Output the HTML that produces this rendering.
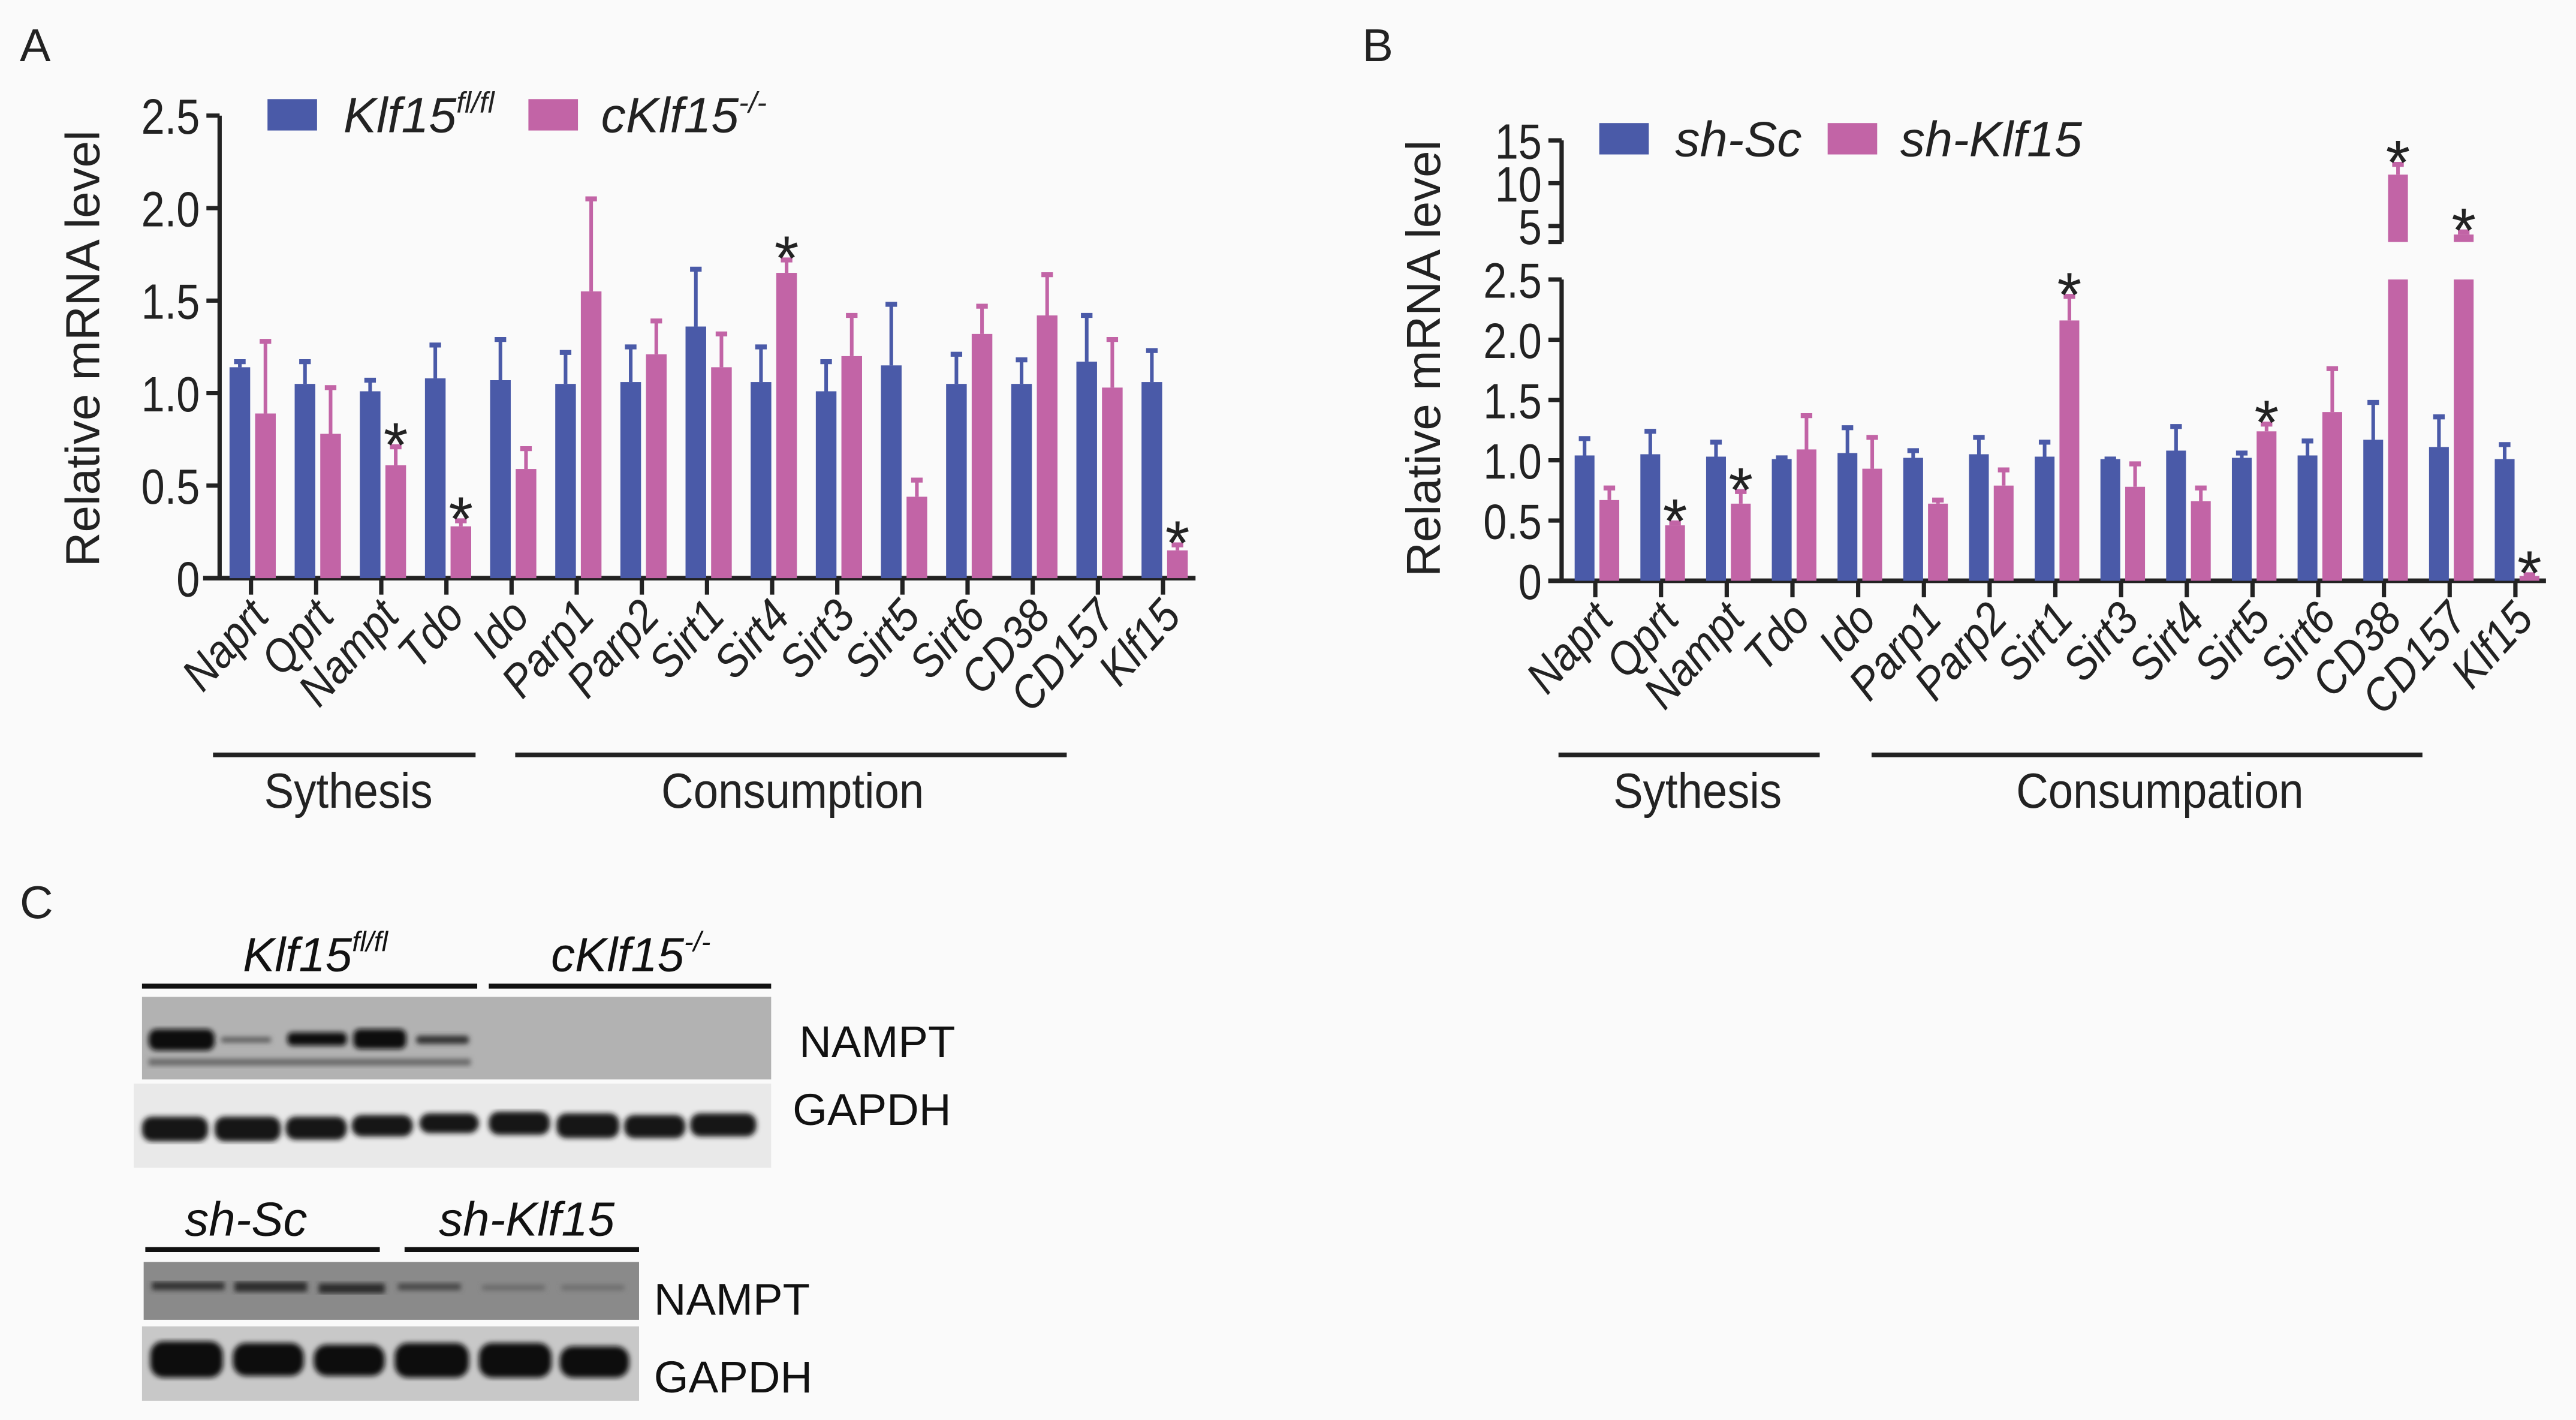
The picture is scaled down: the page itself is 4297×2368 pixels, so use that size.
<!DOCTYPE html>
<html><head><meta charset="utf-8">
<style>
html,body{margin:0;padding:0;background:#fafafa;}
svg{display:block;font-family:"Liberation Sans",Arial,sans-serif;}
</style></head>
<body>
<svg id="fig" width="4297" height="2368" viewBox="0 0 1560 859.66" preserveAspectRatio="none" xmlns="http://www.w3.org/2000/svg">
<defs>
<filter id="blur1"><feGaussianBlur stdDeviation="1.5"/></filter>
</defs>
<rect width="1560" height="860" fill="#fafafa"/>
<g id="panelA"></g>
<g id="panelB"></g>
<g id="panelC">
  <text x="12" y="556" font-size="28" fill="#222">C</text>
  <text x="191" y="588" font-size="29" font-style="italic" text-anchor="middle" fill="#111">Klf15<tspan font-size="17" dy="-12">fl/fl</tspan></text>
  <text x="382" y="588" font-size="29" font-style="italic" text-anchor="middle" fill="#111">cKlf15<tspan font-size="17" dy="-12">-/-</tspan></text>
  <line x1="86" y1="597" x2="289" y2="597" stroke="#111" stroke-width="3"/>
  <line x1="296" y1="597" x2="467" y2="597" stroke="#111" stroke-width="3"/>
  <g>
    <rect x="86" y="603.5" width="381" height="50" fill="#b2b2b2"/>
    <g filter="url(#blur1)" fill="#111">
      <rect x="90" y="623" width="40" height="13" rx="5"/>
      <rect x="134" y="628" width="30" height="3" fill="#555"/>
      <rect x="174" y="625" width="36" height="8" rx="3"/>
      <rect x="214" y="623" width="32" height="12" rx="4"/>
      <rect x="252" y="627" width="32" height="5" rx="2" fill="#333"/>
      <rect x="90" y="641" width="195" height="4" fill="#666"/>
    </g>
  </g>
  <g>
    <rect x="81" y="656" width="386" height="51" fill="#e9e9e9"/>
    <g filter="url(#blur1)" fill="#151515">
      <rect x="86" y="676" width="40" height="15" rx="6"/>
      <rect x="130" y="676" width="40" height="15" rx="6"/>
      <rect x="173" y="676" width="37" height="14" rx="6"/>
      <rect x="213" y="675" width="37" height="13" rx="6"/>
      <rect x="254" y="674" width="36" height="12" rx="6"/>
      <rect x="296" y="673" width="37" height="14" rx="6"/>
      <rect x="337" y="674" width="38" height="15" rx="6"/>
      <rect x="378" y="675" width="37" height="14" rx="6"/>
      <rect x="418" y="674" width="40" height="14" rx="6"/>
    </g>
  </g>
  <text x="484" y="640" font-size="27" fill="#111">NAMPT</text>
  <text x="480" y="681" font-size="27" fill="#111">GAPDH</text>
  <text x="149" y="748" font-size="29" font-style="italic" text-anchor="middle" fill="#111">sh-Sc</text>
  <text x="319" y="748" font-size="29" font-style="italic" text-anchor="middle" fill="#111">sh-Klf15</text>
  <line x1="88" y1="756.5" x2="230" y2="756.5" stroke="#111" stroke-width="3"/>
  <line x1="245" y1="756.5" x2="387" y2="756.5" stroke="#111" stroke-width="3"/>
  <g>
    <rect x="87" y="764" width="300" height="35" fill="#8a8a8a"/>
    <g filter="url(#blur1)">
      <rect x="92" y="776" width="44" height="5" fill="#333"/>
      <rect x="142" y="776" width="44" height="6" fill="#2a2a2a"/>
      <rect x="193" y="777" width="40" height="6" fill="#2a2a2a"/>
      <rect x="241" y="777" width="38" height="4" fill="#444"/>
      <rect x="292" y="778" width="38" height="3" fill="#666"/>
      <rect x="340" y="778" width="38" height="3" fill="#6a6a6a"/>
    </g>
  </g>
  <g>
    <rect x="86" y="803" width="301" height="45" fill="#c8c8c8"/>
    <g filter="url(#blur1)" fill="#111">
      <rect x="91" y="812" width="44" height="22" rx="8"/>
      <rect x="141" y="813" width="43" height="20" rx="8"/>
      <rect x="190" y="814" width="43" height="19" rx="8"/>
      <rect x="239" y="813" width="45" height="21" rx="8"/>
      <rect x="290" y="813" width="44" height="21" rx="8"/>
      <rect x="339" y="815" width="42" height="19" rx="8"/>
    </g>
  </g>
  <text x="396" y="796" font-size="27" fill="#111">NAMPT</text>
  <text x="396" y="843" font-size="27" fill="#111">GAPDH</text>
</g>
</svg>
<script>
// ---- Panel A data ----
const catsA = ["Naprt","Qprt","Nampt","Tdo","Ido","Parp1","Parp2","Sirt1","Sirt4","Sirt3","Sirt5","Sirt6","CD38","CD157","Klf15"];
const blueA = [1.14,1.05,1.01,1.08,1.07,1.05,1.06,1.36,1.06,1.01,1.15,1.05,1.05,1.17,1.06];
const blueAErr = [0.03,0.12,0.06,0.18,0.22,0.17,0.19,0.31,0.19,0.16,0.33,0.16,0.13,0.25,0.17];
const pinkA = [0.89,0.78,0.61,0.28,0.59,1.55,1.21,1.14,1.65,1.20,0.44,1.32,1.42,1.03,0.15];
const pinkAErr = [0.39,0.25,0.10,0.03,0.11,0.50,0.18,0.18,0.07,0.22,0.09,0.15,0.22,0.26,0.03];
const starA = [0,0,1,1,0,0,0,0,1,0,0,0,0,0,1];
const ticksA = ["0","0.5","1.0","1.5","2.0","2.5"];
const tickValsA = [0,0.5,1,1.5,2,2.5];
// ---- Panel B data ----
const catsB = ["Naprt","Qprt","Nampt","Tdo","Ido","Parp1","Parp2","Sirt1","Sirt3","Sirt4","Sirt5","Sirt6","CD38","CD157","Klf15"];
const blueB = [1.04,1.05,1.03,1.01,1.06,1.02,1.05,1.03,1.01,1.08,1.02,1.04,1.17,1.11,1.01];
const blueBErr = [0.14,0.19,0.12,0.01,0.21,0.06,0.14,0.12,0.0,0.20,0.04,0.12,0.31,0.25,0.12];
const pinkB = [0.67,0.46,0.64,1.09,0.93,0.64,0.79,2.16,0.78,0.66,1.24,1.40,11.0,4.0,0.04];
const pinkBErr = [0.10,0.02,0.10,0.28,0.26,0.03,0.13,0.20,0.19,0.11,0.06,0.36,1.2,0.3,0.01];
const starB = [0,1,1,0,0,0,0,1,0,0,1,0,1,1,1];
const ticksBLow = ["0","0.5","1.0","1.5","2.0","2.5"];
const tickValsBLow = [0,0.5,1,1.5,2,2.5];
const ticksBHigh = ["5","10","15"];
const tickValsBHigh = [5,10,15];

const NS = "http://www.w3.org/2000/svg";
const BLUE = "#4a5aa8", PINK = "#c264a6";
function mk(parent, tag, attrs, text){
  const e = document.createElementNS(NS, tag);
  for (const k in attrs) e.setAttribute(k, attrs[k]);
  if (text !== undefined) e.textContent = text;
  parent.appendChild(e);
  return e;
}

function drawPanel(g, o){
  const yL = v => o.y0 - v / o.maxLow * (o.y0 - o.yTop);
  const yH = v => o.hiBase - (v - o.hiRef) / 5 * o.hiStep;
  const xT = i => o.x0 + i * o.dx;
  let t = mk(g,"text",{x:o.letterX,y:37,"font-size":28,fill:"#222"},o.letter);
  
  
  let ax = mk(g,"line",{x1:o.ax,y1:o.y0,x2:o.ax,y2:o.yTop,stroke:"#222","stroke-width":2.6});
  
  
  o.tickVals.forEach((v,i)=>{
    const y = yL(v);
    let tk = mk(g,"line",{x1:o.ax-8,y1:y,x2:o.ax,y2:y,stroke:"#222","stroke-width":2.6});
    
    
    let tl = mk(g,"text",{x:0,y:0,"font-size":30,"text-anchor":"end",fill:"#222",transform:`translate(${o.ax-12},${y+11}) scale(0.85,1)`},o.ticks[i]);
    
    
  });
  if (o.hi){
    let ax2 = mk(g,"line",{x1:o.ax,y1:o.hiBottom,x2:o.ax,y2:yH(15),stroke:"#222","stroke-width":2.6});
    
    
    let br = mk(g,"line",{x1:o.ax-8,y1:o.hiBottom,x2:o.ax,y2:o.hiBottom,stroke:"#222","stroke-width":2.6});
    
    
    o.hiVals.forEach((v,i)=>{
      const y = yH(v);
      let tk = mk(g,"line",{x1:o.ax-8,y1:y,x2:o.ax,y2:y,stroke:"#222","stroke-width":2.6});
      
      
      let tl = mk(g,"text",{x:0,y:0,"font-size":30,"text-anchor":"end",fill:"#222",transform:`translate(${o.ax-12},${y+11}) scale(0.85,1)`},o.hiTicks[i]);
      
      
    });
  }
  let yt = mk(g,"text",{x:0,y:0,"font-size":29,"text-anchor":"middle",fill:"#222",transform:`translate(${o.ytX},${o.ytY}) rotate(-90)`},"Relative mRNA level");
  
  
  let xa = mk(g,"line",{x1:o.xStart,y1:o.y0,x2:o.xEnd,y2:o.y0,stroke:"#222","stroke-width":2.8});
  
  
  const bw = o.bw;
  const valToY = v => {
    if (!o.hi || v <= o.maxLow) return yL(v);
    return yH(v);
  };
  o.cats.forEach((c,i)=>{
    const x = xT(i);
    let tk = mk(g,"line",{x1:x,y1:o.y0,x2:x,y2:o.y0+10,stroke:"#222","stroke-width":2.6});
    
    
    let lb = mk(g,"text",{x:0,y:0,"font-size":28,"font-style":"italic","text-anchor":"end",fill:"#222",transform:`translate(${x+12},${o.y0+24}) rotate(-48) scale(0.9,1)`},c);
    
    
    [[o.blue,o.blueErr,BLUE,x-bw-0.5,'blue'],[o.pink,o.pinkErr,PINK,x+2.5,'pink']].forEach(s=>{
      const v = s[0][i], e = s[1][i], col = s[2], bx = s[3];
      const cx = bx + bw/2;
      const eTop = valToY(v+e), vy = valToY(v);
      let el = mk(g,"line",{x1:cx,y1:vy,x2:cx,y2:eTop,stroke:col,"stroke-width":2.2});
      
      
      let ec = mk(g,"line",{x1:cx-3.5,y1:eTop,x2:cx+3.5,y2:eTop,stroke:col,"stroke-width":3});
      
      
      if (o.hi && v > o.maxLow){
        let r1 = mk(g,"rect",{x:bx,y:o.yTop,width:bw,height:o.y0-o.yTop,fill:col});
        
        
        let r2 = mk(g,"rect",{x:bx,y:vy,width:bw,height:Math.max(0,o.hiBottom-vy),fill:col});
        
        
      } else {
        let r = mk(g,"rect",{x:bx,y:vy,width:bw,height:o.y0-vy,fill:col});
        
        
      }
    });
    if (o.star[i]){
      const sx = x + 2.5 + bw/2;
      const sy = valToY(o.pink[i]+o.pinkErr[i]) - 4;
      let st = mk(g,"text",{x:sx,y:sy+16,"font-size":38,"text-anchor":"middle",fill:"#222"},"*");
      
      
    }
  });
  let l1 = mk(g,"rect",{x:o.legX,y:o.legY,width:30,height:19,fill:BLUE});
  
  
  let lt1 = mk(g,"text",{x:o.legX+46,y:o.legY+20,"font-size":30,"font-style":"italic",fill:"#222"});
  
  
  lt1.innerHTML = o.leg1;
  let l2 = mk(g,"rect",{x:o.leg2X,y:o.legY,width:30,height:19,fill:PINK});
  
  
  let lt2 = mk(g,"text",{x:o.leg2X+44,y:o.legY+20,"font-size":30,"font-style":"italic",fill:"#222"});
  
  
  lt2.innerHTML = o.leg2;
  o.groups.forEach(gr=>{
    let ln = mk(g,"line",{x1:gr[0],y1:457,x2:gr[1],y2:457,stroke:"#222","stroke-width":2.8});
    
    
    let gt = mk(g,"text",{x:0,y:0,"font-size":30,"text-anchor":"middle",fill:"#222",transform:`translate(${gr[2]},${489}) scale(0.9,1)`},gr[3]);
    
    
  });
}

drawPanel(document.getElementById('panelA'),{
  letter:"A", letterX:12, ax:133, y0:350, yTop:70, maxLow:2.5,
  ticks:ticksA, tickVals:tickValsA, ytX:60, ytY:211,
  xStart:123, xEnd:724, x0:152, dx:39.45, bw:12.5,
  cats:catsA, blue:blueA, blueErr:blueAErr, pink:pinkA, pinkErr:pinkAErr, star:starA,
  legX:162, leg2X:320, legY:60,
  leg1:'Klf15<tspan font-size="18" dy="-12">fl/fl</tspan>',
  leg2:'cKlf15<tspan font-size="18" dy="-12">-/-</tspan>',
  groups:[[129,288,211,"Sythesis"],[312,646,480,"Consumption"]]
});
drawPanel(document.getElementById('panelB'),{
  letter:"B", letterX:825, ax:945.7, y0:351.6, yTop:169.2, maxLow:2.5,
  ticks:ticksBLow, tickVals:tickValsBLow, ytX:872, ytY:217,
  hi:true, hiBase:136.8, hiRef:5, hiStep:25.9, hiBottom:146.5,
  hiTicks:ticksBHigh, hiVals:tickValsBHigh,
  xStart:937.6, xEnd:1541.8, x0:966.1, dx:39.8, bw:12,
  cats:catsB, blue:blueB, blueErr:blueBErr, pink:pinkB, pinkErr:pinkBErr, star:starB,
  legX:968.5, leg2X:1106.8, legY:74.5,
  leg1:'sh-Sc', leg2:'sh-Klf15',
  groups:[[943.8,1102,1028,"Sythesis"],[1133.4,1467,1308,"Consumpation"]]
});
</script>
</body></html>
